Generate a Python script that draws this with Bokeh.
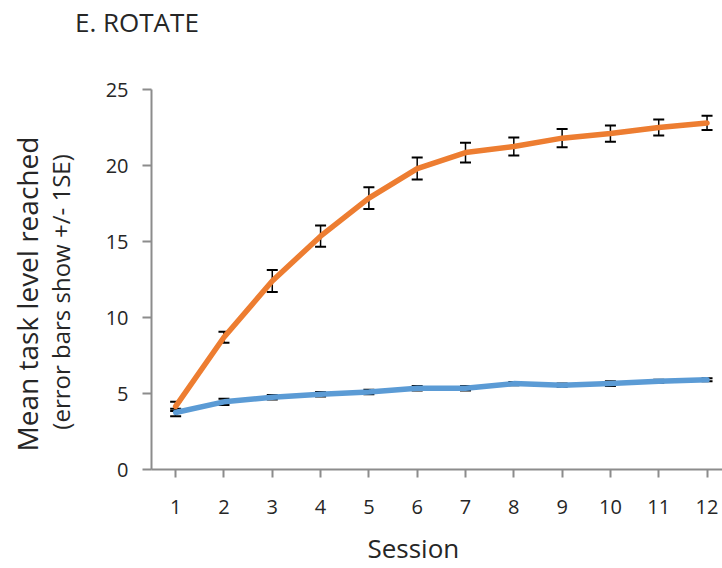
from bokeh.plotting import figure
from bokeh.layouts import column
from bokeh.models import (ColumnDataSource, Whisker, TeeHead, FixedTicker, Range1d,
                          LinearAxis, Div)
from bokeh.embed import file_html
from bokeh.resources import INLINE

# ---- data ----
sessions = [1, 2, 3, 4, 5, 6, 7, 8, 9, 10, 11, 12]
orange_mean = [4.15, 8.7, 12.4, 15.35, 17.85, 19.8, 20.85, 21.25, 21.8, 22.1, 22.5, 22.8]
orange_se = [0.3, 0.36, 0.72, 0.7, 0.72, 0.72, 0.65, 0.6, 0.6, 0.53, 0.53, 0.47]
blue_mean = [3.75, 4.45, 4.75, 4.95, 5.1, 5.35, 5.35, 5.65, 5.55, 5.65, 5.8, 5.9]
blue_se = [0.25, 0.2, 0.15, 0.15, 0.15, 0.15, 0.15, 0.1, 0.1, 0.15, 0.1, 0.1]
y_ticks = [0, 5, 10, 15, 20, 25]
title_text = "E. ROTATE"

TEXT = "#262626"
FONT = "Open Sans"
NB = "\u00a0"

TITLE_H = 50

header = Div(text=title_text, width=722, height=TITLE_H, margin=0,
             styles={"font-family": FONT, "font-size": "26px", "color": TEXT,
                     "padding-left": "75px", "line-height": "44px",
                     "white-space": "nowrap"})

p = figure(width=722, height=568 - TITLE_H, output_backend="svg", toolbar_location=None,
           x_range=Range1d(0.5, 12.32), y_range=Range1d(0, 25),
           min_border_left=151, min_border_right=0, min_border_top=89 - TITLE_H,
           min_border_bottom=99, margin=0)
p.outline_line_color = None
p.grid.grid_line_color = None
p.background_fill_color = "white"

def make_src(mean, se):
    return ColumnDataSource(dict(
        x=sessions, y=mean,
        upper=[m + s for m, s in zip(mean, se)],
        lower=[m - s for m, s in zip(mean, se)]))

src_o = make_src(orange_mean, orange_se)
src_b = make_src(blue_mean, blue_se)

p.line("x", "y", source=src_b, line_color="#5B9BD5", line_width=5.5, line_join="round", line_cap="round")
p.line("x", "y", source=src_o, line_color="#ED7D31", line_width=5.5, line_join="round", line_cap="round")

for src in (src_b, src_o):
    w = Whisker(base="x", upper="upper", lower="lower", source=src,
                line_color="black", line_width=1.5,
                upper_head=TeeHead(size=11, line_color="black", line_width=2),
                lower_head=TeeHead(size=11, line_color="black", line_width=2))
    p.add_layout(w)

# x axis
xa = p.xaxis[0]
xa.ticker = FixedTicker(ticks=sessions)
xa.axis_label = "Session" + NB * 7
xa.axis_label_text_font = FONT
xa.axis_label_text_font_size = "26px"
xa.axis_label_text_font_style = "normal"
xa.axis_label_text_color = TEXT
xa.axis_label_standoff = 13
xa.major_label_text_font = FONT
xa.major_label_text_font_size = "20px"
xa.major_label_text_color = TEXT
xa.major_label_standoff = 22
xa.major_tick_out = 8
xa.major_tick_in = 0
xa.minor_tick_line_color = None
xa.axis_line_color = "#8C8C8C"
xa.axis_line_width = 2
xa.major_tick_line_color = "#8C8C8C"
xa.major_tick_line_width = 2

# y axis
ya = p.yaxis[0]
ya.ticker = FixedTicker(ticks=y_ticks)
ya.axis_label = "(error bars show +/- 1SE)" + NB * 4
ya.axis_label_text_font = FONT
ya.axis_label_text_font_size = "24px"
ya.axis_label_text_font_style = "normal"
ya.axis_label_text_color = TEXT
ya.axis_label_standoff = 26
ya.major_label_text_font = FONT
ya.major_label_text_font_size = "20px"
ya.major_label_text_color = TEXT
ya.major_label_standoff = 14
ya.major_tick_out = 9
ya.major_tick_in = 0
ya.minor_tick_line_color = None
ya.axis_line_color = "#8C8C8C"
ya.axis_line_width = 2
ya.major_tick_line_color = "#8C8C8C"
ya.major_tick_line_width = 2

outer = LinearAxis(ticker=FixedTicker(ticks=[]),
                   axis_label="Mean task level reached" + NB * 4,
                   axis_line_color=None, major_tick_line_color=None,
                   minor_tick_line_color=None)
outer.axis_label_text_font = FONT
outer.axis_label_text_font_size = "28px"
outer.axis_label_text_font_style = "normal"
outer.axis_label_text_color = TEXT
outer.axis_label_standoff = -5
p.add_layout(outer, "left")

layout = column(header, p, spacing=0, margin=0)
open("out.html", "w").write(file_html(layout, INLINE))
